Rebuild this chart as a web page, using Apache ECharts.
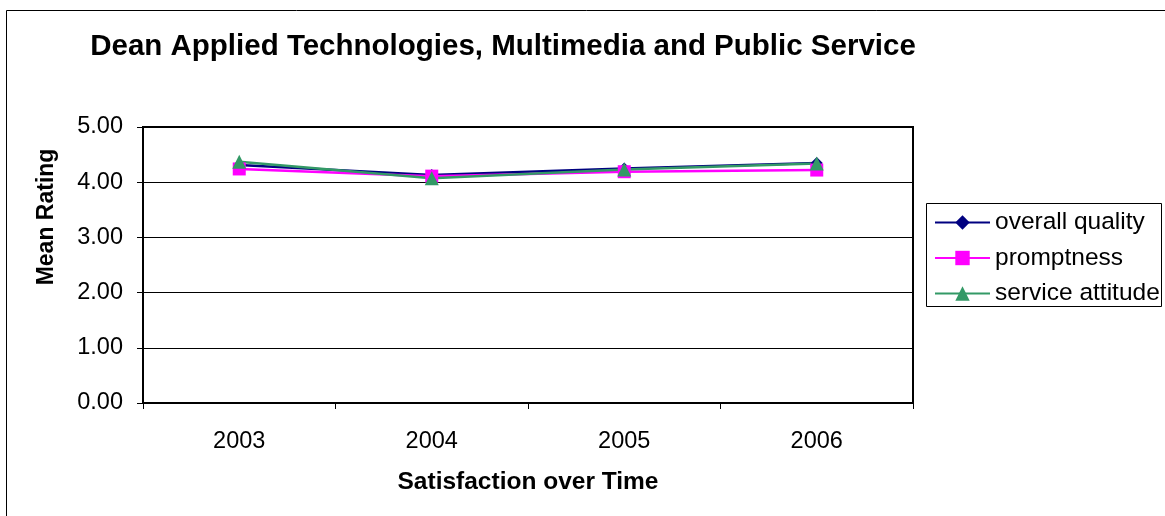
<!DOCTYPE html>
<html><head><meta charset="utf-8">
<script src="https://cdn.jsdelivr.net/npm/echarts@6/dist/echarts.min.js"></script>
<style>html,body{margin:0;padding:0;background:#fff}#c{width:1165px;height:516px}</style>
</head><body><div id="c"></div>
<script>
const categories = ['2003', '2004', '2005', '2006'];
const overallQuality = [4.31, 4.13, 4.25, 4.35];
const promptness = [4.24, 4.11, 4.19, 4.22];
const serviceAttitude = [4.37, 4.07, 4.23, 4.34];
const yTicks = [0, 1, 2, 3, 4, 5];

const font = 'Liberation Sans, Arial, sans-serif';
const chart = echarts.init(document.getElementById('c'));
chart.setOption({
  animation: false,
  backgroundColor: '#fff',
  graphic: [
    {type: 'rect', shape: {x: 6.5, y: 10.5, width: 1170, height: 520}, style: {fill: 'none', stroke: '#000', lineWidth: 1}, z: -1},
    {type: 'rect', shape: {x: 926.5, y: 203.5, width: 235, height: 103}, style: {fill: '#fff', stroke: '#000', lineWidth: 1}, z: 0},
    {type: 'text', x: 503, y: 47, style: {text: 'Dean Applied Technologies, Multimedia and Public Service', font: 'bold 29.5px ' + font, fill: '#000', align: 'center', verticalAlign: 'middle'}},
    {type: 'text', x: 47, y: 217, rotation: Math.PI / 2, style: {text: 'Mean Rating', font: 'bold 23px ' + font, fill: '#000', align: 'center', verticalAlign: 'middle'}},
    {type: 'text', x: 528, y: 482, style: {text: 'Satisfaction over Time', font: 'bold 24.5px ' + font, fill: '#000', align: 'center', verticalAlign: 'middle'}}
  ],
  grid: {left: 143, top: 127, width: 770, height: 276, show: true, borderColor: '#000', borderWidth: 2, containLabel: false},
  legend: {
    orient: 'vertical', left: 926, top: 203, itemWidth: 55, itemHeight: 18, itemGap: 10.5,
    padding: [7, 0, 0, 8], borderWidth: 0, z: 5,
    textStyle: {fontFamily: font, fontSize: 24.5, color: '#000'},
    data: ['overall quality', 'promptness', 'service attitude']
  },
  xAxis: {
    type: 'category', data: categories, boundaryGap: true,
    axisLine: {lineStyle: {color: '#000', width: 2}},
    axisTick: {show: true, inside: false, length: 6, interval: 0, lineStyle: {color: '#000'}},
    axisLabel: {fontFamily: font, fontSize: 23.5, color: '#000', margin: 27}
  },
  yAxis: {
    type: 'value', min: yTicks[0], max: yTicks[yTicks.length - 1], interval: 1,
    axisLine: {show: true, lineStyle: {color: '#000', width: 2}},
    axisTick: {show: true, length: 6, lineStyle: {color: '#000'}},
    axisLabel: {fontFamily: font, fontSize: 23.5, color: '#000', margin: 20, formatter: v => v.toFixed(2)},
    splitLine: {show: true, lineStyle: {color: '#000', width: 1}}
  },
  series: [
    {name: 'overall quality', type: 'line', data: overallQuality, symbol: 'diamond', symbolSize: 12,
     itemStyle: {color: '#000080'}, lineStyle: {color: '#000080', width: 2.5}},
    {name: 'promptness', type: 'line', data: promptness, symbol: 'rect', symbolSize: 13,
     itemStyle: {color: '#FF00FF'}, lineStyle: {color: '#FF00FF', width: 2.5}},
    {name: 'service attitude', type: 'line', data: serviceAttitude, symbol: 'triangle', symbolSize: 14,
     itemStyle: {color: '#339966'}, lineStyle: {color: '#339966', width: 2.5}}
  ]
});
</script></body></html>
